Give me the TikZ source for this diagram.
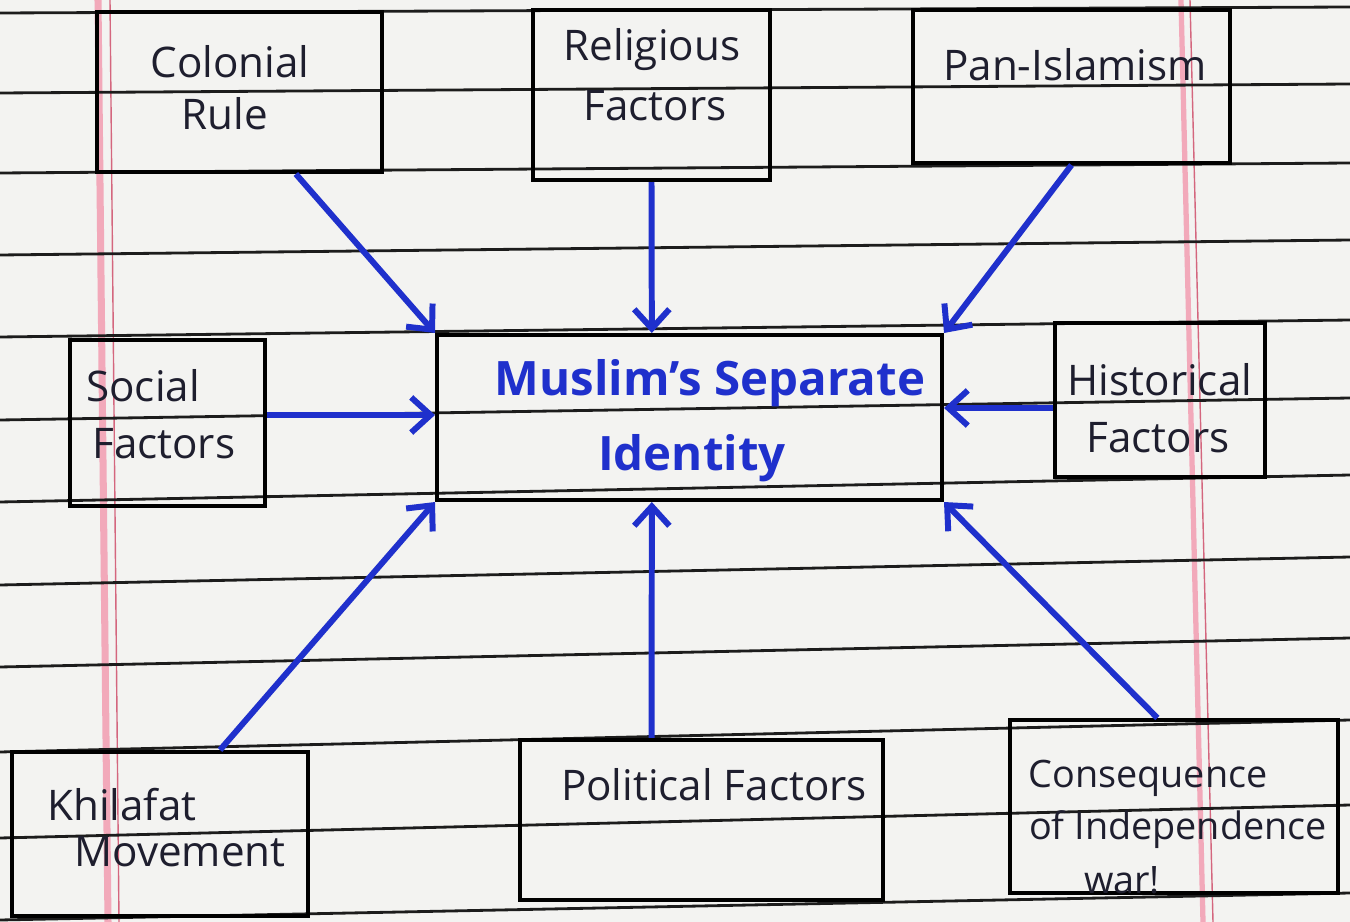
\documentclass[tikz,border=0pt]{standalone}
\usepackage{fontspec}
\setmainfont{Open Sans}
\usetikzlibrary{arrows.meta,calc,fit}
\definecolor{paper}{HTML}{F3F3F1}
\definecolor{rulegray}{HTML}{1C1C1C}
\definecolor{ink}{HTML}{1E1E2E}
\definecolor{pen}{HTML}{1F30CC}
\definecolor{marginpink}{HTML}{F2A9BA}
\definecolor{marginred}{HTML}{D4667E}

\begin{document}
\begin{tikzpicture}[x=0.02cm,y=-0.02cm,
  box/.style={draw=black, line width=2.3pt, inner sep=0pt},
  ruling/.style={draw=rulegray, line width=1.6pt},
  hand/.style={text=ink, font=\fontsize{24}{28}\selectfont, inner sep=0pt},
  small hand/.style={hand, font=\fontsize{21.5}{25}\selectfont},
  title/.style={text=pen, font=\bfseries\fontsize{27}{30}\selectfont, inner sep=0pt},
  feed/.style={draw=pen, line width=3.4pt, -{Straight Barb[length=11pt,width=20pt]}},
]
% sheet of ruled paper
\fill[paper] (0,0) rectangle (1350,922);
\useasboundingbox (0,0) rectangle (1350,922);
\draw[marginpink, line width=4pt] (98,0) -- (108,922);
\draw[marginred, line width=0.8pt] (110,0) -- (119,922);
\draw[marginpink, line width=3pt] (1181,0) -- (1203,922);
\draw[marginred, line width=0.8pt] (1190,0) -- (1213,922);
\foreach \a/\b in {13/7, 93/84, 173/163, 255/240, 337/320, 420/398, 502/475,
                   585/557, 667/638, 752/720, 838/805, 920/893}
  \draw[ruling] (0,\a) -- (1350,\b);

% boxes
\node[box, fit={(97,12) (382,172)}] (col) {};
\node[box, fit={(533,10) (770,180)}] (rel) {};
\node[box, fit={(913,10) (1230,163)}] (pan) {};
\node[box, fit={(70,340) (265,506)}] (soc) {};
\node[box, fit={(437,335) (942,500)}] (ctr) {};
\node[box, fit={(1055,323) (1265,477)}] (his) {};
\node[box, fit={(12,752) (308,916)}] (khi) {};
\node[box, fit={(520,740) (883,900)}] (pol) {};
\node[box, fit={(1010,720) (1338,893)}] (con) {};

% exit points of the two horizontal arrows
\coordinate (socout) at ($(soc.east)+(0,-8)$);
\coordinate (hisout) at ($(his.west)+(0,8)$);

% arrows into the central box
\draw[feed] ($(col.south west)!0.695!(col.south east)$) -- (ctr.north west);
\draw[feed] (rel.south) -- ($(ctr.north west)!0.426!(ctr.north east)$);
\draw[feed] (pan.south) -- (ctr.north east);
\draw[feed] (socout) -- (socout -| ctr.west);
\draw[feed] (hisout) -- (hisout -| ctr.east);
\draw[feed] ($(khi.north west)!0.70!(khi.north east)$) -- (ctr.south west);
\draw[feed] ($(pol.north west)!0.364!(pol.north east)$) -- ($(ctr.south west)!0.426!(ctr.south east)$);
\draw[feed] ($(con.north west)!0.45!(con.north east)$) -- (ctr.south east);

% labels
\node[hand] (col1) at (230,62) {Colonial};
\node[hand] (col2) at (225,114) {Rule};
\node[hand] (rel1) at (652,50) {Religious};
\node[hand] (rel2) at (655,106) {Factors};
\node[hand] (pan1) at (1075,65) {Pan-Islamism};
\node[hand, anchor=west] (soc1) at (86,386) {Social};
\node[hand, anchor=west] (soc2) at (92,444) {Factors};
\node[hand] (his1) at (1160,380) {Historical};
\node[hand] (his2) at (1158,438) {Factors};
\node[title] (ctr1) at (710,383) {Muslim's Separate};
\node[title] (ctr2) at (692,458) {Identity};
\node[hand] (khi1) at (122,805) {Khilafat};
\node[hand] (khi2) at (180,852) {Movement};
\node[hand] (pol1) at (714,785) {Political Factors};
\node[small hand] (con1) at (1148,778) {Consequence};
\node[small hand] (con2) at (1178,830) {of Independence};
\node[small hand] (con3) at (1122,880) {war!};
\end{tikzpicture}
\end{document}
